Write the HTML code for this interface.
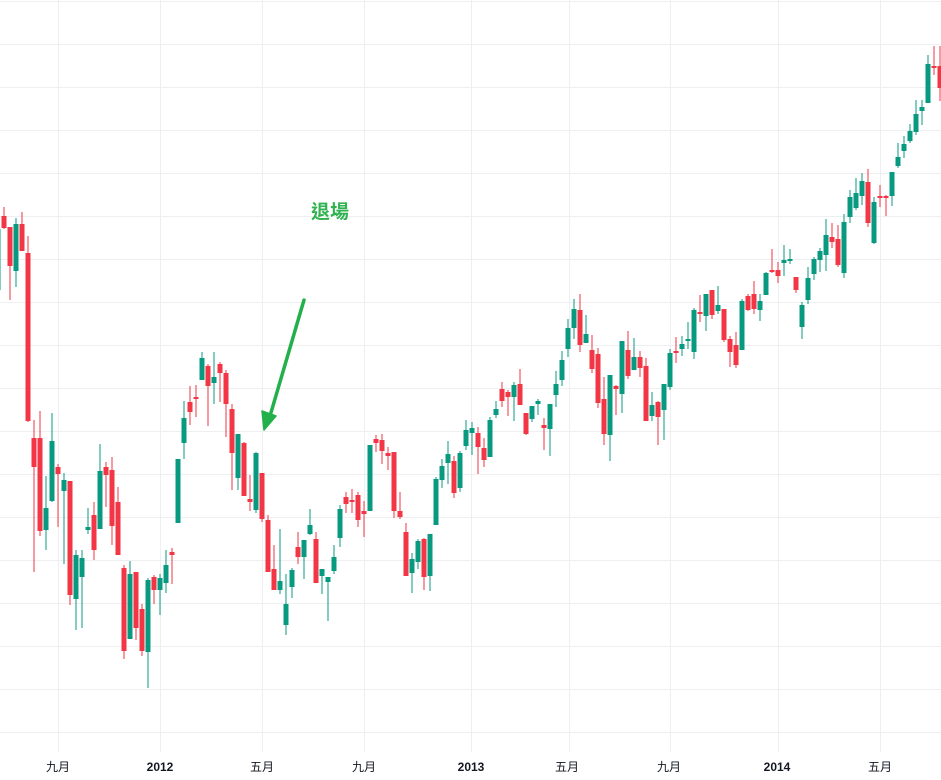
<!DOCTYPE html>
<html><head><meta charset="utf-8"><style>
html,body{margin:0;padding:0;background:#fff;}
svg{display:block}
</style></head><body>
<svg id="c" width="941" height="780" xmlns="http://www.w3.org/2000/svg">
<g id="grid" stroke="#eeeff1" stroke-width="1"></g>
<g id="candles"></g>
<line x1="304" y1="300" x2="270" y2="416" stroke="#22b04b" stroke-width="3.5" stroke-linecap="round"/>
<polygon points="264,430 262,411 276,416" fill="#22b04b" stroke="#22b04b" stroke-width="1.5" stroke-linejoin="round"/>
<text x="311" y="218" font-family="'Noto Sans CJK TC','WenQuanYi Zen Hei',sans-serif" font-size="19" font-weight="bold" fill="#2fb24f">退場</text>
<g font-family="'Liberation Sans','Noto Sans CJK TC',sans-serif" font-size="12" fill="#131722" text-anchor="middle">
<text x="58" y="771">九月</text>
<text x="160" y="771" font-weight="bold">2012</text>
<text x="262" y="771">五月</text>
<text x="364" y="771">九月</text>
<text x="471" y="771" font-weight="bold">2013</text>
<text x="567" y="771">五月</text>
<text x="669" y="771">九月</text>
<text x="777" y="771" font-weight="bold">2014</text>
<text x="880" y="771">五月</text>
</g>
</svg>
<script>
var NS="http://www.w3.org/2000/svg";
var g=document.getElementById('grid');
for(var y=1;y<=733;y+=43){var l=document.createElementNS(NS,'line');l.setAttribute('x1',0);l.setAttribute('x2',941);l.setAttribute('y1',y+0.5);l.setAttribute('y2',y+0.5);g.appendChild(l);}
[58,160,262,364,471,569,670,778,880].forEach(function(x){var l=document.createElementNS(NS,'line');l.setAttribute('x1',x+0.5);l.setAttribute('x2',x+0.5);l.setAttribute('y1',0);l.setAttribute('y2',752);g.appendChild(l);});
var D=[
[-2,229,290,222,300,'g'],
[4,216,228,207,229,'r'],[10,227,266,227,300,'r'],[16,224,271,218,287,'g'],[22,224,251,212,251,'r'],[28,253,421,236,422,'r'],
[34,438,467,420,572,'r'],[40,438,531,411,536,'r'],[46,508,530,476,550,'g'],[52,441,501,413,502,'g'],[58,467,474,464,527,'r'],
[64,480,491,473,564,'g'],[70,481,595,481,605,'r'],[76,555,599,550,630,'g'],[82,558,577,550,628,'g'],[88,527,530,508,534,'g'],
[94,515,550,502,560,'r'],[100,471,529,444,529,'g'],[106,467,475,462,507,'r'],[112,470,526,457,545,'r'],[118,502,555,487,555,'r'],
[124,568,651,565,659,'r'],[130,574,639,561,639,'g'],[136,572,628,572,640,'r'],[142,609,651,604,656,'r'],[148,580,652,578,688,'g'],
[154,577,590,575,604,'r'],[160,578,590,574,615,'g'],[166,565,583,550,593,'g'],[172,552,555,548,584,'r'],[178,459,523,459,523,'g'],
[184,418,443,401,459,'g'],[190,402,412,386,425,'r'],[196,397,398,385,417,'r'],[202,358,380,352,380,'g'],[208,366,386,364,426,'r'],
[214,377,383,352,404,'g'],[220,364,373,362,402,'r'],[226,373,404,370,437,'r'],[232,409,453,404,490,'r'],[238,434,478,434,490,'g'],
[244,443,496,442,496,'r'],[250,499,502,475,511,'r'],[256,453,510,452,513,'g'],[262,473,519,473,522,'r'],[268,520,572,515,572,'r'],
[274,569,590,545,590,'r'],[280,581,590,529,594,'g'],[286,604,625,574,635,'g'],[292,570,587,568,598,'g'],[298,547,557,532,564,'r'],
[304,540,557,540,579,'g'],[310,525,534,509,535,'g'],[316,539,583,532,583,'r'],[322,569,576,569,594,'g'],[328,577,582,577,621,'g'],
[334,557,571,545,574,'g'],[340,509,538,505,547,'g'],[346,497,504,492,513,'r'],[352,500,502,489,513,'r'],[358,495,520,492,527,'r'],
[364,511,514,501,537,'r'],[370,445,511,445,511,'g'],[376,439,443,435,452,'r'],[382,440,451,434,464,'r'],[388,453,456,447,470,'r'],
[394,452,511,452,518,'r'],[400,511,517,492,519,'r'],[406,532,576,523,576,'r'],[412,559,573,553,593,'g'],[418,541,562,539,569,'g'],
[424,539,577,538,590,'r'],[430,534,576,534,591,'g'],[436,479,525,477,525,'g'],[442,466,480,459,488,'g'],[448,454,463,441,484,'g'],
[454,461,493,456,498,'r'],[460,453,488,451,492,'g'],[466,430,446,420,450,'g'],[472,428,433,422,455,'g'],[478,433,447,427,474,'r'],
[484,448,460,438,467,'r'],[490,420,457,417,457,'g'],[496,409,415,401,418,'g'],[502,389,401,382,407,'r'],[508,392,397,390,416,'r'],
[514,385,397,382,421,'g'],[520,384,405,369,405,'r'],[526,413,434,413,435,'r'],[532,406,419,406,422,'g'],[538,401,404,399,415,'g'],
[544,425,428,418,450,'r'],[550,404,429,404,456,'g'],[556,384,395,371,407,'g'],[562,360,380,351,386,'g'],[568,328,349,319,357,'g'],
[574,309,328,299,339,'g'],[580,310,345,294,352,'r'],[586,334,343,315,343,'g'],[592,350,369,335,373,'r'],[598,354,403,348,408,'r'],
[604,399,434,377,445,'r'],[610,375,435,375,461,'g'],[616,386,389,385,415,'r'],[622,341,394,341,413,'g'],[628,350,376,331,379,'r'],
[634,357,370,338,370,'g'],[640,357,368,351,377,'r'],[646,366,421,358,421,'r'],[652,405,416,392,421,'g'],[658,402,417,401,445,'r'],
[664,384,410,384,440,'g'],[670,353,387,349,390,'g'],[676,351,353,337,363,'r'],[682,344,349,336,356,'g'],[688,339,341,322,349,'g'],
[694,310,352,308,359,'g'],[700,312,314,295,322,'r'],[706,294,316,294,331,'g'],[712,290,315,290,319,'r'],[718,305,311,286,314,'g'],
[724,309,340,309,342,'r'],[730,339,352,336,367,'r'],[736,345,365,332,368,'r'],[742,301,350,299,350,'g'],[748,296,310,294,311,'r'],
[754,294,309,281,314,'r'],[760,301,310,294,321,'g'],[766,273,295,272,295,'g'],[772,270,272,249,273,'r'],[778,270,276,262,283,'r'],
[784,260,263,245,276,'g'],[790,259,261,249,264,'g'],[796,277,290,277,293,'r'],[802,305,327,302,339,'g'],[808,278,300,267,304,'g'],
[814,259,274,257,280,'g'],[820,251,260,248,272,'g'],[826,235,255,219,271,'g'],[832,237,242,223,248,'r'],[838,239,265,225,267,'r'],
[844,222,273,214,278,'g'],[850,197,217,190,223,'g'],[856,193,208,178,210,'g'],[862,181,196,173,205,'g'],[868,182,223,169,227,'r'],
[874,202,243,197,244,'g'],[880,196,198,185,207,'r'],[886,196,198,195,216,'r'],[892,172,196,172,206,'g'],[898,157,166,143,168,'g'],
[904,144,151,136,158,'g'],[910,131,141,124,143,'g'],[916,114,132,100,135,'g'],[922,107,111,100,125,'g'],[928,64,103,55,103,'g'],
[934,66,68,46,75,'r'],[940,66,88,46,101,'r']
];
var cg=document.getElementById('candles');
D.forEach(function(d){
 var x=d[0],c=d[5]=='g'?'#089981':'#f23645';
 var w=document.createElementNS(NS,'rect');w.setAttribute('x',x-0.5);w.setAttribute('y',d[3]);w.setAttribute('width',1);w.setAttribute('height',Math.max(1,d[4]-d[3]));w.setAttribute('fill',c);cg.appendChild(w);
 var b=document.createElementNS(NS,'rect');b.setAttribute('x',x-2.5);b.setAttribute('y',d[1]);b.setAttribute('width',5);b.setAttribute('height',Math.max(2,d[2]-d[1]));b.setAttribute('fill',c);cg.appendChild(b);
});
</script>
</body></html>
